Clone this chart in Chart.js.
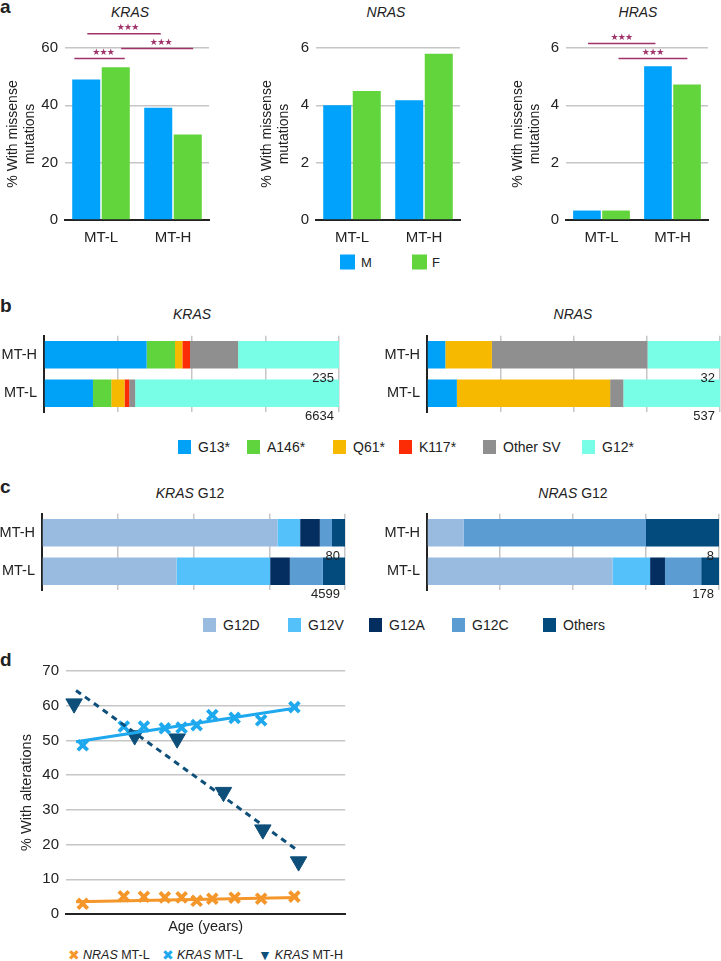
<!DOCTYPE html>
<html>
<head>
<meta charset="utf-8">
<script src="https://cdn.jsdelivr.net/npm/chart.js@4.4.1/dist/chart.umd.min.js"></script>
<style>
  body { margin:0; background:#fff; width:721px; height:961px; position:relative; overflow:hidden;
         font-family:'Liberation Sans', Arial, sans-serif; color:#222; }
  canvas { position:absolute; }
  .t { position:absolute; white-space:nowrap; transform:translate(-50%,-50%); font-size:14px; }
  .i { font-style:italic; }
  .lt { position:absolute; white-space:nowrap; transform:translateY(-50%); display:flex; align-items:center; font-size:14px; }
  .sw { display:inline-block; width:13px; height:14px; margin-right:7px; }
  .pl { position:absolute; left:0; font-weight:bold; font-size:19px; transform:translateY(-50%); }
</style>
</head>
<body>

<div class="pl" style="top:7px">a</div>
<div class="pl" style="top:306px">b</div>
<div class="pl" style="top:487px">c</div>
<div class="pl" style="top:660px">d</div>

<!-- panel a -->
<div class="t i" style="left:130px;top:12px">KRAS</div>
<div class="t i" style="left:386px;top:12px">NRAS</div>
<div class="t i" style="left:638px;top:12px">HRAS</div>
<canvas id="aK" width="219" height="250" style="left:0;top:0"></canvas>
<canvas id="aN" width="216" height="250" style="left:254px;top:0"></canvas>
<canvas id="aH" width="213" height="250" style="left:505px;top:0"></canvas>
<div class="lt" style="left:340px;top:262px;font-size:13px"><span class="sw" style="width:15px;height:15px;background:#00a2fb;margin-right:6px"></span>M</div>
<div class="lt" style="left:412px;top:262px;font-size:13px"><span class="sw" style="width:15px;height:15px;background:#62d43c;margin-right:5px"></span>F</div>

<!-- panel b -->
<div class="t i" style="left:192px;top:314px">KRAS</div>
<div class="t i" style="left:573px;top:314px">NRAS</div>
<canvas id="bK" width="350" height="108" style="left:0;top:320px"></canvas>
<canvas id="bN" width="351" height="108" style="left:370px;top:320px"></canvas>
<div id="legB"></div>

<!-- panel c -->
<div class="t" style="left:190px;top:493px"><span class="i">KRAS</span> G12</div>
<div class="t" style="left:573px;top:493px"><span class="i">NRAS</span> G12</div>
<canvas id="cK" width="356" height="108" style="left:0;top:498px"></canvas>
<canvas id="cN" width="351" height="108" style="left:370px;top:498px"></canvas>
<div id="legC"></div>

<!-- panel d -->
<canvas id="dL" width="356" height="289" style="left:0;top:655px"></canvas>
<div class="lt" style="left:68px;top:955px;font-size:12.5px"><span style="color:#f4962a;font-size:14px;margin-right:3px">&#x2716;</span><span class="i">NRAS</span>&nbsp;MT-L</div>
<div class="lt" style="left:162px;top:955px;font-size:12.5px"><span style="color:#1ea8ee;font-size:14px;margin-right:3px">&#x2716;</span><span class="i">KRAS</span>&nbsp;MT-L</div>
<div class="lt" style="left:258px;top:955px;font-size:12.5px"><span style="color:#0e4f7a;font-size:14px;margin-right:3px">&#x25BC;</span><span class="i">KRAS</span>&nbsp;MT-H</div>

<script>
// ---- panel a: % with missense mutations by sex ----
const groups = ['MT-L', 'MT-H'];
const krasM = [49.0, 39.2];
const krasF = [53.3, 29.8];
const nrasM = [4.0, 4.18];
const nrasF = [4.5, 5.8];
const hrasM = [0.33, 5.36];
const hrasF = [0.33, 4.73];
// significance bars: [from, to, level], from/to in category units
const krasSig = [[-0.37, 0.33, 56.3], [-0.19, 0.83, 65.0], [0.28, 1.28, 59.8]];
const hrasSig = [[-0.19, 0.76, 6.16], [0.24, 1.21, 5.63]];

// ---- panel b: variant spectrum (%) ----
const rows = ['MT-H', 'MT-L'];
const svTypes = ['G13*', 'A146*', 'Q61*', 'K117*', 'Other SV', 'G12*'];
const krasSvH = [34.8, 9.6, 2.5, 2.6, 16.3, 34.2];
const krasSvL = [16.6, 6.2, 4.5, 1.6, 2.0, 69.1];
const nrasSvH = [6.25, 0, 15.9, 0, 53.1, 24.75];
const nrasSvL = [10.2, 0, 52.3, 0, 4.5, 33.0];
const krasN = [235, 6634];
const nrasN = [32, 537];

// ---- panel c: G12 substitutions (%) ----
const g12Types = ['G12D', 'G12V', 'G12A', 'G12C', 'Others'];
const krasG12H = [77.7, 7.5, 6.5, 4.0, 4.3];
const krasG12L = [44.4, 30.9, 6.5, 10.9, 7.3];
const nrasG12H = [12.5, 0, 0, 62.5, 25.0];
const nrasG12L = [63.5, 12.9, 5.1, 12.4, 6.1];
const krasG12N = [80, 4599];
const nrasG12N = [8, 178];

// ---- panel d: % with alterations vs age ----
const ageL = [6.0, 20.7, 27.9, 35.4, 41.4, 46.8, 52.4, 60.4, 69.9, 81.8];
const nrasL = [2.95, 5.1, 4.95, 4.8, 4.8, 3.8, 4.4, 4.7, 4.4, 5.0];
const krasL = [48.6, 54.0, 54.0, 53.5, 53.7, 54.4, 57.3, 56.5, 55.8, 59.6];
const ageH = [2.9, 24.6, 39.8, 56.4, 70.5, 83.3];
const krasH = [60.6, 51.4, 50.5, 35.1, 24.3, 15.1];
const trendX = [3.6, 83.0];
const nrasLTrend = [3.5, 4.75];
const krasLTrend = [49.6, 59.4];
const krasHTrend = [64.4, 18.3];

const BLUE = '#00a2fb', GREEN = '#62d43c';
const svColors = ['#00a2f7', '#5fd43c', '#f7b900', '#fb2c06', '#8f8f8f', '#78fde6'];
const g12Colors = ['#98bbdf', '#55c1fb', '#052e60', '#5b9dd3', '#034b7d'];
const GRID = '#c6c6c6', AXIS = '#222';

Chart.defaults.font.family = "'Liberation Sans', Arial, sans-serif";
Chart.defaults.color = '#222';

const sigBars = {
  id: 'sigBars',
  afterDatasetsDraw(chart, args, opts) {
    const { ctx, scales: { x, y } } = chart;
    const x0 = x.getPixelForValue(0);
    const step = x.getPixelForValue(1) - x0;
    ctx.save();
    ctx.strokeStyle = '#a0336a';
    ctx.fillStyle = '#a0336a';
    ctx.lineWidth = 1.5;
    ctx.font = "9px 'DejaVu Sans'";
    ctx.textAlign = 'center';
    ctx.textBaseline = 'middle';
    opts.bars.forEach(([a, b, v]) => {
      const xa = x0 + a * step, xb = x0 + b * step, yy = y.getPixelForValue(v);
      ctx.beginPath(); ctx.moveTo(xa, yy); ctx.lineTo(xb, yy); ctx.stroke();
      const cx = (xa + xb) / 2 + (opts.dx || 0);
      [-7.3, 0, 7.3].forEach(d => ctx.fillText('\u2605', cx + d, yy - 6));
    });
    ctx.restore();
  }
};

const sizeLabels = {
  id: 'sizeLabels',
  afterDatasetsDraw(chart, args, opts) {
    const { ctx, scales: { x, y } } = chart;
    ctx.save();
    ctx.font = "13px 'Liberation Sans', Arial";
    ctx.fillStyle = '#222';
    ctx.textAlign = 'right';
    ctx.textBaseline = 'middle';
    opts.values.forEach((v, i) => ctx.fillText(String(v), x.getPixelForValue(100) - 5, y.getPixelForValue(i) + 23.5));
    ctx.restore();
  }
};

function sexBars(id, m, f, max, step, sig, yw, sigDx) {
  return new Chart(document.getElementById(id), {
    type: 'bar',
    data: {
      labels: groups,
      datasets: [
        { label: 'M', data: m, backgroundColor: BLUE },
        { label: 'F', data: f, backgroundColor: GREEN }
      ]
    },
    options: {
      responsive: false, animation: false,
      datasets: { bar: { categoryPercentage: 0.82, barPercentage: 0.95, borderWidth: 0 } },
      layout: { padding: { top: 48, right: 10, left: 0, bottom: 0 } },
      plugins: { legend: { display: false }, tooltip: { enabled: false }, sigBars: { bars: sig, dx: sigDx } },
      scales: {
        x: {
          grid: { display: false, drawTicks: false },
          border: { color: AXIS, width: 2 },
          ticks: { font: { size: 15 }, padding: 9 },
          afterFit(s) { s.height = 30; }
        },
        y: {
          min: 0, max: max,
          ticks: { stepSize: step, font: { size: 15 }, padding: 7 },
          border: { display: false },
          grid: { color: c => c.tick.value === 0 ? 'rgba(0,0,0,0)' : GRID, lineWidth: 1.5, drawTicks: false },
          title: { display: true, text: ['% With missense', 'mutations'], font: { size: 14, lineHeight: 1.25 }, padding: { top: 4, bottom: 0 } },
          afterFit(s) { s.width = yw; }
        }
      }
    },
    plugins: sig ? [sigBars] : []
  });
}

sexBars('aK', krasM, krasF, 60, 20, krasSig, 65, 4);
sexBars('aN', nrasM, nrasF, 6, 2, null, 62, 0);
sexBars('aH', hrasM, hrasF, 6, 2, hrasSig, 61, 0);

function stackBars(id, types, colors, dataH, dataL, sizes, yw, padRight) {
  return new Chart(document.getElementById(id), {
    type: 'bar',
    data: {
      labels: rows,
      datasets: types.map((t, i) => ({ label: t, data: [dataH[i], dataL[i]], backgroundColor: colors[i] }))
    },
    options: {
      indexAxis: 'y', responsive: false, animation: false,
      datasets: { bar: { categoryPercentage: 1, barPercentage: 0.717, borderWidth: 0 } },
      layout: { padding: { top: 6, right: padRight, left: 0, bottom: 0 } },
      plugins: { legend: { display: false }, tooltip: { enabled: false }, sizeLabels: { values: sizes } },
      scales: {
        x: {
          stacked: true, min: 0, max: 100,
          ticks: { display: false, stepSize: 25 },
          grid: { color: GRID, lineWidth: 1.5, drawTicks: false },
          border: { display: false },
          afterFit(s) { s.height = 10; }
        },
        y: {
          stacked: true,
          grid: { display: false, drawTicks: false },
          border: { color: AXIS, width: 2 },
          ticks: { font: { size: 14.5 }, padding: 7 },
          afterFit(s) { s.width = yw; }
        }
      }
    },
    plugins: [sizeLabels]
  });
}

stackBars('bK', svTypes, svColors, krasSvH, krasSvL, krasN, 44, 11);
stackBars('bN', svTypes, svColors, nrasSvH, nrasSvL, nrasN, 57, 1);
stackBars('cK', g12Types, g12Colors, krasG12H, krasG12L, krasG12N, 42, 11);
stackBars('cN', g12Types, g12Colors, nrasG12H, nrasG12L, nrasG12N, 57, 2);

function legend(el, types, colors, lefts, top) {
  document.getElementById(el).innerHTML = types.map((t, i) =>
    `<div class="lt" style="left:${lefts[i]}px;top:${top}px"><span class="sw" style="background:${colors[i]}"></span>${t}</div>`
  ).join('');
}
legend('legB', svTypes, svColors, [178, 247, 333, 399, 483, 582], 447);
legend('legC', g12Types, g12Colors, [203, 288, 369, 452, 543], 625);

const pts = (xs, ys) => xs.map((x, i) => ({ x: x, y: ys[i] }));
const ORANGE = '#f4962a', LBLUE = '#1ea8ee', NAVY = '#0e4f7a';

new Chart(document.getElementById('dL'), {
  type: 'scatter',
  data: {
    datasets: [
      { data: pts(trendX, nrasLTrend), showLine: true, borderColor: ORANGE, borderWidth: 3, pointRadius: 0, clip: false },
      { data: pts(trendX, krasLTrend), showLine: true, borderColor: LBLUE, borderWidth: 3, pointRadius: 0, clip: false },
      { data: pts(trendX, krasHTrend), showLine: true, borderColor: NAVY, borderWidth: 3, borderDash: [6, 5], pointRadius: 0, clip: false },
      { label: 'NRAS MT-L', data: pts(ageL, nrasL), pointStyle: 'crossRot', pointRadius: 7, pointBorderWidth: 3.8, pointBorderColor: ORANGE, clip: false },
      { label: 'KRAS MT-L', data: pts(ageL, krasL), pointStyle: 'crossRot', pointRadius: 7, pointBorderWidth: 3.8, pointBorderColor: LBLUE, clip: false },
      { label: 'KRAS MT-H', data: pts(ageH, krasH), pointStyle: 'triangle', rotation: 180, pointRadius: 9.5, pointBackgroundColor: NAVY, pointBorderColor: NAVY, pointBorderWidth: 1, clip: false }
    ]
  },
  options: {
    responsive: false, animation: false,
    layout: { padding: { top: 14, right: 10, left: 0, bottom: 0 } },
    plugins: { legend: { display: false }, tooltip: { enabled: false } },
    scales: {
      x: {
        min: 0, max: 100,
        ticks: { display: false },
        grid: { display: false },
        border: { color: AXIS, width: 2 },
        title: { display: true, text: 'Age (years)', font: { size: 14.5, lineHeight: 1.2 }, padding: { top: 0, bottom: 8 } },
        afterFit(s) { s.height = 30; }
      },
      y: {
        min: 0, max: 70,
        ticks: { stepSize: 10, font: { size: 15 }, padding: 7 },
        border: { display: false },
        grid: { color: c => c.tick.value === 0 ? 'rgba(0,0,0,0)' : GRID, lineWidth: 1.5, drawTicks: false },
        title: { display: true, text: '% With alterations', font: { size: 14.5, lineHeight: 1.2 }, padding: { top: 18, bottom: 0 } },
        afterFit(s) { s.width = 66; }
      }
    }
  }
});
</script>
</body>
</html>
